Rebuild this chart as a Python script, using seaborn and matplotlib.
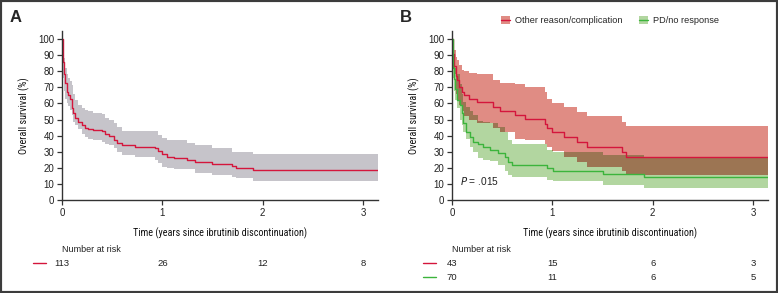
import numpy as np
import pandas as pd
import matplotlib
matplotlib.use("Agg")
import matplotlib.pyplot as plt
import matplotlib.transforms as mtransforms
from matplotlib.patches import Patch, Rectangle
from matplotlib.lines import Line2D
import seaborn as sns

# --- data (time in years, survival in %) ---
a_time = [0, 0.005, 0.01, 0.02, 0.03, 0.047, 0.063, 0.08, 0.096, 0.11, 0.13, 0.16, 0.2, 0.23,
          0.26, 0.31, 0.4, 0.43, 0.47, 0.52, 0.55, 0.6, 0.73, 0.93, 0.96, 1.0, 1.05, 1.12,
          1.25, 1.33, 1.5, 1.69, 1.73, 1.9, 3.15]
a_surv = [100, 94, 86, 78, 72.5, 67, 65, 63, 57, 54, 50.7, 48.6, 46.6, 45, 44.3, 43.5, 42.7,
          40.7, 39.7, 37.5, 35.5, 34, 32.8, 32.5, 30.4, 28.8, 26.9, 25.9, 24.6, 23.6, 22.4,
          21.1, 20, 18.6, 18.6]
a_upper = [100, 99, 95, 88, 82, 78, 76, 74, 71.4, 66, 62, 59, 57, 56, 55, 54, 53.5, 51, 50,
           47.6, 45.5, 42.8, 42.8, 42.8, 40.4, 38.5, 37.3, 37.3, 35.2, 34, 32, 30, 30, 28.4, 28.4]
a_lower = [100, 85, 76, 68, 63, 60, 58.5, 56, 52.8, 48.6, 46.6, 44, 41, 39.3, 38, 37.3, 36.2,
           35, 34, 32, 30, 28, 26.5, 24.8, 23, 20.7, 20, 19, 19, 17, 15.5, 14.5, 13.5, 12, 12]

oth_time = [0, 0.01, 0.02, 0.04, 0.05, 0.066, 0.1, 0.12, 0.17, 0.25, 0.41, 0.48, 0.63, 0.73,
            0.93, 0.95, 1.0, 1.12, 1.25, 1.35, 1.69, 1.73, 3.15]
oth_surv = [100, 91, 83, 77, 74.6, 70, 67, 65, 63, 60.7, 58, 55.4, 53, 50.4, 47, 44.6, 42, 39,
            36, 33, 29.8, 27, 27]
oth_upper = [100, 97, 93, 89, 87, 84, 81, 80, 79, 78, 74.6, 72.5, 72, 70, 67, 63, 60, 57.6,
             54.7, 52, 48.6, 46, 46]
oth_lower = [100, 88, 78, 66, 62, 59, 55, 52, 50, 47.6, 45, 42, 38, 37, 35, 33, 30.5, 26.5,
             23.8, 20.7, 18.2, 15.7, 15.7]

pd_time = [0, 0.005, 0.01, 0.02, 0.03, 0.047, 0.08, 0.096, 0.11, 0.14, 0.18, 0.21, 0.26, 0.31,
           0.38, 0.46, 0.53, 0.56, 0.6, 0.945, 1.01, 1.51, 1.91, 3.15]
pd_surv = [100, 90, 82, 75, 69, 62, 59, 54, 47.6, 42.4, 39.3, 36, 35, 33, 31, 29, 27, 23.5,
           21.5, 20, 18, 16, 14, 14]
pd_upper = [100, 96, 92, 86, 82, 78, 72, 66, 61, 58, 55, 53, 49, 48.6, 48, 45.5, 42, 37, 34.5,
            31, 29.8, 28, 26.5, 26.5]
pd_lower = [100, 85, 76, 68, 62, 57, 50, 46.6, 42, 38, 33, 30, 26, 25, 24, 22, 18, 15.5, 14.5,
            12.4, 11.5, 9.5, 7.5, 7.5]

risk_times = [0, 1, 2, 3]
risk_all = [113, 26, 12, 8]
risk_oth = [43, 15, 6, 3]
risk_pd = [70, 11, 6, 5]

RED = "#d4163c"
GREEN = "#3cb43c"
GRAY_BAND = "#c6c4ca"
RED_BAND = "#e08c84"
GREEN_BAND = "#b2d6a0"
# multiply blend of the two bands where they overlap
OVERLAP = tuple(np.array(matplotlib.colors.to_rgb(RED_BAND)) * np.array(matplotlib.colors.to_rgb(GREEN_BAND)))
SPINE = "#333333"
TXT = "#222222"
COND = ["Roboto Condensed", "DejaVu Sans"]

sns.set_style("ticks")
plt.rcParams["font.family"] = ["Liberation Sans", "DejaVu Sans"]


def step_at(times, values, grid):
    idx = np.searchsorted(np.asarray(times), grid, side="right") - 1
    return np.asarray(values)[idx]


def style_axes(ax):
    ax.set_xlim(0, 3.15)
    ax.set_ylim(0, 105)
    ax.set_xticks([0, 1, 2, 3])
    ax.set_yticks(range(0, 101, 10))
    sns.despine(ax=ax)
    for s in ["left", "bottom"]:
        ax.spines[s].set_color(SPINE)
        ax.spines[s].set_linewidth(1.0)
    ax.tick_params(direction="out", length=3.5, width=0.9, color=SPINE, labelsize=7,
                   labelcolor=TXT, pad=2)
    ax.set_xlabel("Time (years since ibrutinib discontinuation)", fontsize=7.3,
                  family=COND, labelpad=7, color="#111111")
    ax.set_ylabel("Overall survival (%)", fontsize=7.3, family=COND, labelpad=6,
                  color="#111111")


def risk_table(ax, rows):
    trans = mtransforms.blended_transform_factory(ax.transData, ax.transAxes)
    ax.text(0, -0.29, "Number at risk", transform=trans, ha="left", va="center",
            fontsize=6.5, color=TXT)
    for k, (color, counts) in enumerate(rows):
        y = -0.373 - 0.083 * k
        ax.plot([-0.29, -0.16], [y, y], transform=trans, color=color, lw=1.0, clip_on=False)
        for t, n in zip(risk_times, counts):
            ax.text(t, y, str(n), transform=trans, ha="center", va="center",
                    fontsize=6.8, color=TXT)


fig = plt.figure(figsize=(7.78, 2.93), dpi=100)
ax_a = fig.add_axes([62 / 778, 93 / 293, 316 / 778, 169 / 293])
ax_b = fig.add_axes([452 / 778, 93 / 293, 316 / 778, 169 / 293])

# --- panel A ---
df_a = pd.DataFrame({"time": a_time, "surv": a_surv})
ax_a.fill_between(a_time, a_lower, a_upper, step="post", color=GRAY_BAND, lw=0)
sns.lineplot(data=df_a, x="time", y="surv", ax=ax_a, color=RED, lw=1.0,
             drawstyle="steps-post", errorbar=None)
style_axes(ax_a)
risk_table(ax_a, [(RED, risk_all)])

# --- panel B ---
grid = np.union1d(oth_time, pd_time)
ov_low = np.maximum(step_at(oth_time, oth_lower, grid), step_at(pd_time, pd_lower, grid))
ov_up = np.minimum(step_at(oth_time, oth_upper, grid), step_at(pd_time, pd_upper, grid))
ov_up = np.maximum(ov_up, ov_low)

ax_b.fill_between(oth_time, oth_lower, oth_upper, step="post", color=RED_BAND, lw=0)
ax_b.fill_between(pd_time, pd_lower, pd_upper, step="post", color=GREEN_BAND, lw=0)
ax_b.fill_between(grid, ov_low, ov_up, step="post", color=OVERLAP, lw=0)

df_b = pd.concat([
    pd.DataFrame({"time": oth_time, "surv": oth_surv, "group": "Other reason/complication"}),
    pd.DataFrame({"time": pd_time, "surv": pd_surv, "group": "PD/no response"}),
])
sns.lineplot(data=df_b, x="time", y="surv", hue="group", ax=ax_b,
             palette={"Other reason/complication": RED, "PD/no response": GREEN},
             lw=1.0, drawstyle="steps-post", errorbar=None, legend=False)
style_axes(ax_b)
ax_b.text(0.08, 12, "$P$ = .015", fontsize=7.3, ha="left", va="center", color=TXT)
risk_table(ax_b, [(RED, risk_oth), (GREEN, risk_pd)])

handles = [(Patch(color=RED_BAND, lw=0), Line2D([], [], color=RED, lw=1.0)),
           (Patch(color=GREEN_BAND, lw=0), Line2D([], [], color=GREEN, lw=1.0))]
ax_b.legend(handles, ["Other reason/complication", "PD/no response"], loc="center",
            bbox_to_anchor=(0.5, 1.06), ncol=2, frameon=False, fontsize=6.6,
            handlelength=1.0, handleheight=0.9, handletextpad=0.5, columnspacing=1.8,
            borderaxespad=0)

fig.text(10 / 778, 1 - 18 / 293, "A", fontsize=12, weight="bold", va="center", ha="left")
fig.text(400 / 778, 1 - 18 / 293, "B", fontsize=12, weight="bold", va="center", ha="left")
fig.add_artist(Rectangle((0, 0), 1, 1, transform=fig.transFigure, fill=False,
                         lw=3, ec="#3c3c3c"))

fig.savefig("out.png", dpi=100)
